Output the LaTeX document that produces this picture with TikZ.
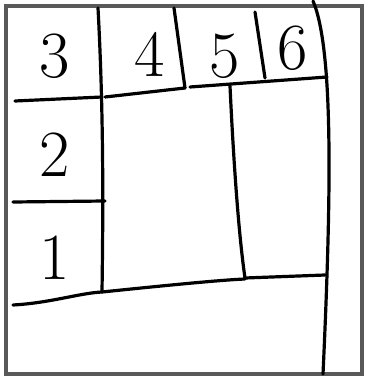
\documentclass[tikz,border=0pt]{standalone}
\begin{document}
\begin{tikzpicture}[x=1pt, y=-1pt,
	stroke/.style={line width=3.2pt, line cap=round, line join=round},
	frame/.style={line width=3.5pt, draw=black!65},
	digit/.style={font=\fontsize{66}{70}\selectfont, inner sep=0pt}]
	\useasboundingbox (0,0) rectangle (367,379);
	% Frame:
	\draw[frame] (6,6) rectangle (362,374);
	% Grid lines:
	\draw[stroke] (98,8) .. controls (104,120) and (103,220) .. (102,292);
	\draw[stroke] (15,101) -- (102,97);
	\draw[stroke] (105,97) -- (185,88);
	\draw[stroke] (174,8) -- (185,88);
	\draw[stroke] (190,87) -- (327,77);
	\draw[stroke] (255,12) -- (265,78);
	\draw[stroke] (313,1) .. controls (334,50) and (331,200) .. (323,374);
	\draw[stroke] (230,86) .. controls (233,150) and (238,230) .. (245,278);
	\draw[stroke] (245,278) -- (325,275);
	\draw[stroke] (13,202) -- (105,201);
	\draw[stroke] (13,305) .. controls (50,303) and (80,293) .. (102,292) .. controls (160,286) and (220,280) .. (245,279);
	% Labels:
	\node[digit] (three) at (55,56) {3};
	\node[digit] (four) at (150,54) {4};
	\node[digit] (five) at (225,56) {5};
	\node[digit] (six) at (293,48) {6};
	\node[digit] (two) at (55,155) {2};
	\node[digit] (one) at (55,258) {1};
\end{tikzpicture}
\end{document}
